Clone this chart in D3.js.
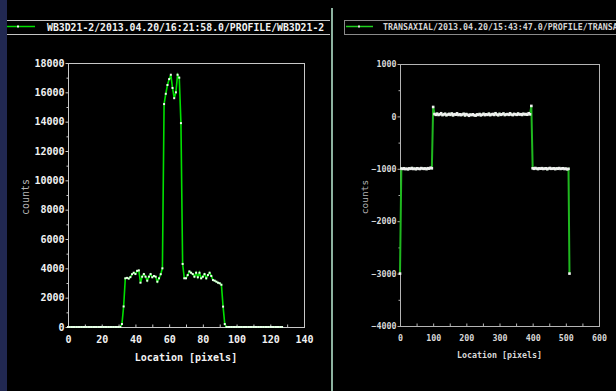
<!DOCTYPE html>
<html>
<head>
<meta charset="utf-8">
<script src="https://cdn.jsdelivr.net/npm/d3@7"></script>
<style>
  html, body { margin: 0; padding: 0; background: #000; }
  svg { display: block; }
</style>
</head>
<body>
<svg id="chart" width="616" height="391"></svg>
<script>
// ---- left panel data (profile across WB3D21-2) ----
const leftTitle = "WB3D21-2/2013.04.20/16:21:58.0/PROFILE/WB3D21-2";
const leftCounts = [
  0, 0, 0, 0, 0, 0, 0, 0, 0, 0,
  0, 0, 0, 0, 0, 0, 0, 0, 0, 0,
  0, 0, 0, 0, 0, 0, 0, 0, 0, 0,
  0, 0, 200, 1400, 3320, 3350, 3300, 3400, 3600, 3700,
  3610, 3830, 3860, 3020, 3430, 3610, 3430, 3160, 3430, 3610,
  3390, 3480, 3430, 3090, 3320, 3600, 4000, 15200, 15900, 16500,
  16900, 17200, 16300, 15600, 16000, 17200, 17000, 13900, 4300, 3320,
  3320, 3540, 3790, 3700, 3610, 3430, 3700, 3390, 3700, 3320,
  3430, 3610, 3320, 3540, 3700, 3480, 3200, 3160, 3090, 3020,
  2980, 2880, 1390, 200, 0, 0, 0, 0, 0, 0,
  0, 0, 0, 0, 0, 0, 0, 0, 0, 0,
  0, 0, 0, 0, 0, 0, 0, 0, 0, 0,
  0, 0, 0, 0, 0, 0, 0, 0
];
const leftXTicks = [0, 20, 40, 60, 80, 100, 120, 140];
const leftXMinor = [10, 30, 50, 70, 90, 110, 130];
const leftYTicks = [0, 2000, 4000, 6000, 8000, 10000, 12000, 14000, 16000, 18000];
const leftYMinor = [1000, 3000, 5000, 7000, 9000, 11000, 13000, 15000, 17000];

// ---- right panel data (transaxial profile, every 4th pixel) ----
const rightTitle = "TRANSAXIAL/2013.04.20/15:43:47.0/PROFILE/TRANSAXIAL";
const rightLoc = d3.range(0, 512, 4).concat([511]);
const rightCounts = [
  -3000,
  -995, -1002, -990, -1005, -998, -1010, -992, -1000, -985, -1003, -996, -1008,
  -990, -999, -1004, -987, -995, -1001, -993, -1006, -989, -997, -980, -990,
  180,
  45, 30, 52, 28, 40, 60, 25, 38, 50, 22, 35, 48, 30, 55, 20, 42, 33, 58, 27, 40,
  24, 36, 50, 18, 44, 30, 12, 35, 26, 40, 22, 15, 38, 28, 45, 20, 33, 50, 25, 40,
  30, 52, 24, 38, 46, 28, 60, 35, 22, 48, 30, 40, 55, 26, 38, 44, 30, 58, 35, 25,
  48, 40, 30, 55, 36, 42, 28, 50, 38, 45, 32, 60, 40,
  200,
  -990, -1000, -985, -995, -1005, -992, -998, -988, -1003, -996, -990, -1008, -994, -985,
  -1000, -997, -991, -1006, -993, -999, -987, -1002, -995, -990, -1004, -996, -1010, -1000,
  -3000
];
const rightXTicks = [0, 100, 200, 300, 400, 500, 600];
const rightXMinor = [50, 150, 250, 350, 450, 550];
const rightYTicks = [-4000, -3000, -2000, -1000, 0, 1000];
const rightYMinor = [-3500, -2500, -1500, -500, 500];

const MONO = '"DejaVu Sans Mono", "Liberation Mono", monospace';

var svg = d3.select("#chart");

svg.append("rect").attr("width", 616).attr("height", 391).attr("fill", "#000");
// navy strip on the left edge and panel divider
svg.append("rect").attr("x", 0).attr("y", 0).attr("width", 7).attr("height", 391).attr("fill", "#212851");
svg.append("rect").attr("x", 331).attr("y", 8).attr("width", 2).attr("height", 383).attr("fill", "#8db3a0");

// legend strips
var legL = svg.append("g");
legL.append("line").attr("x1", 7).attr("x2", 330).attr("y1", 20.5).attr("y2", 20.5).attr("stroke", "#c4c4c4");
legL.append("line").attr("x1", 7).attr("x2", 330).attr("y1", 34.5).attr("y2", 34.5).attr("stroke", "#c4c4c4");
legL.append("line").attr("x1", 7).attr("x2", 35).attr("y1", 26.5).attr("y2", 26.5).attr("stroke", "#00e000").attr("stroke-width", 1.5);
legL.append("rect").attr("x", 17).attr("y", 25.5).attr("width", 2).attr("height", 2).attr("fill", "#f0fff0");
legL.append("text").attr("x", 47).attr("y", 30.5)
  .attr("font-family", MONO).attr("font-weight", "bold").attr("font-size", 9.8)
  .attr("fill", "#f2f2f2").text(leftTitle);

var legR = svg.append("g");
legR.append("rect").attr("x", 344.5).attr("y", 20.5).attr("width", 300).attr("height", 14)
  .attr("fill", "none").attr("stroke", "#8a8a8a");
legR.append("line").attr("x1", 346).attr("x2", 373).attr("y1", 26.5).attr("y2", 26.5).attr("stroke", "#1fd01f").attr("stroke-width", 1.5);
legR.append("rect").attr("x", 358).attr("y", 25.5).attr("width", 2).attr("height", 2).attr("fill", "#e0e0e0");
legR.append("text").attr("x", 383).attr("y", 30)
  .attr("font-family", MONO).attr("font-weight", "bold").attr("font-size", 8.3)
  .attr("fill", "#d4d4d4").text(rightTitle);

// one profile plot
function drawPanel(p) {
  var x = d3.scaleLinear().domain(p.xDomain).range([p.left, p.right]);
  var y = d3.scaleLinear().domain(p.yDomain).range([p.bottom, p.top]);
  var g = svg.append("g");

  // frame
  g.append("rect")
    .attr("x", p.left + 0.5).attr("y", p.top + 0.5)
    .attr("width", p.right - p.left).attr("height", p.bottom - p.top)
    .attr("fill", "none").attr("stroke", p.frame);

  // y axis: labelled and minor ticks
  var yAxis = d3.axisLeft(y).tickValues(p.yTicks).tickSize(3).tickPadding(1).tickFormat(d3.format("d"));
  var ya = g.append("g").attr("transform", "translate(" + (p.left + 0.5) + ",0)").call(yAxis);
  var yAxisMinor = d3.axisLeft(y).tickValues(p.yMinor).tickSize(2).tickFormat("");
  var ym = g.append("g").attr("transform", "translate(" + (p.left + 0.5) + ",0)").call(yAxisMinor);

  // x axis: ticks point into the plot
  var xAxis = d3.axisBottom(x).tickValues(p.xTicks).tickSize(-3).tickPadding(p.xPad).tickFormat(d3.format("d"));
  var xa = g.append("g").attr("transform", "translate(0," + (p.bottom + 0.5) + ")").call(xAxis);
  var xAxisMinor = d3.axisBottom(x).tickValues(p.xMinor).tickSize(-3).tickFormat("");
  var xm = g.append("g").attr("transform", "translate(0," + (p.bottom + 0.5) + ")").call(xAxisMinor);

  [ya, ym, xa, xm].forEach(function (a) {
    a.select(".domain").remove();
    a.selectAll(".tick line").attr("stroke", p.frame);
    a.selectAll(".tick text")
      .attr("font-family", MONO).attr("font-weight", "bold")
      .attr("font-size", p.fs).attr("fill", p.labelColor);
  });

  // profile line
  var pts = p.xs.map(function (d, i) { return { x: d, v: p.values[i] }; });
  var line = d3.line().x(function (d) { return x(d.x); }).y(function (d) { return y(d.v); });
  g.append("path").datum(pts)
    .attr("d", line).attr("fill", "none")
    .attr("stroke", p.lineColor).attr("stroke-width", p.lineWidth);

  // point markers
  g.selectAll(".dot").data(pts).enter().append("rect")
    .attr("class", "dot")
    .attr("x", function (d) { return x(d.x) - p.ms / 2; })
    .attr("y", function (d) { return y(d.v) - p.ms / 2; })
    .attr("width", p.ms).attr("height", p.ms)
    .attr("fill", p.markColor);

  // axis titles
  g.append("text")
    .attr("x", (p.left + p.right) / 2).attr("y", p.bottom + p.titleDy)
    .attr("text-anchor", "middle")
    .attr("font-family", MONO).attr("font-weight", "bold").attr("font-size", p.fs)
    .attr("fill", p.labelColor).text("Location [pixels]");
  g.append("text")
    .attr("transform", "translate(" + p.countsX + "," + ((p.top + p.bottom) / 2 + 2) + ") rotate(-90)")
    .attr("text-anchor", "middle").attr("dy", "0.35em")
    .attr("font-family", MONO).attr("font-size", p.countsFs)
    .attr("fill", "#b4b4b4").text("counts");
}

drawPanel({
  left: 68, right: 304, top: 63, bottom: 327,
  xDomain: [0, 140], yDomain: [0, 18000],
  xTicks: leftXTicks, xMinor: leftXMinor, yTicks: leftYTicks, yMinor: leftYMinor,
  xs: leftCounts.map(function (d, i) { return i; }), values: leftCounts,
  frame: "#c8c8c8", labelColor: "#f2f2f2", fs: 10, xPad: 8, titleDy: 34,
  lineColor: "#00e000", lineWidth: 1.6, markColor: "#eaffea", ms: 2,
  countsX: 25, countsFs: 10
});

drawPanel({
  left: 400, right: 599, top: 64, bottom: 326,
  xDomain: [0, 600], yDomain: [-4000, 1000],
  xTicks: rightXTicks, xMinor: rightXMinor, yTicks: rightYTicks, yMinor: rightYMinor,
  xs: rightLoc, values: rightCounts,
  frame: "#b4b4b4", labelColor: "#d8d8d8", fs: 8.3, xPad: 9, titleDy: 32,
  lineColor: "#1fb81f", lineWidth: 2, markColor: "#f0f0f0", ms: 2.6,
  countsX: 365, countsFs: 9.5
});
</script>
</body>
</html>
